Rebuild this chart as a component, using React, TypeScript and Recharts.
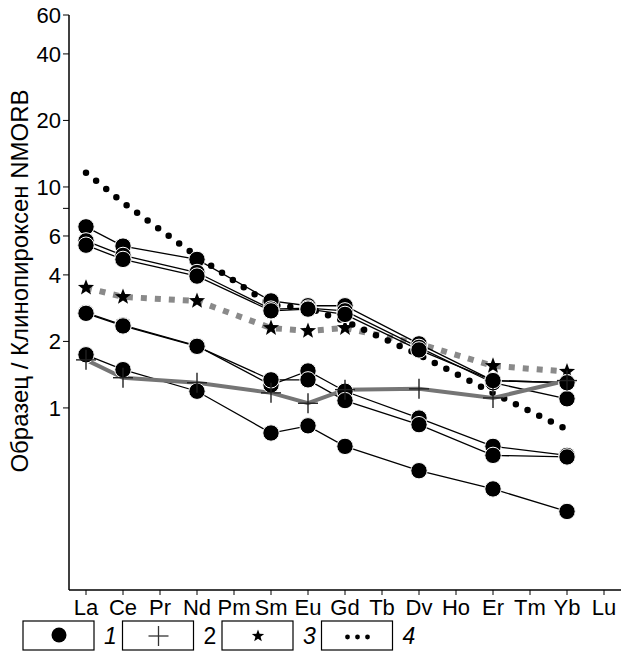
import React from 'react';
import { LineChart, Line, XAxis, YAxis } from 'recharts';

const elements = ['La', 'Ce', 'Pr', 'Nd', 'Pm', 'Sm', 'Eu', 'Gd', 'Tb', 'Dv', 'Ho', 'Er', 'Tm', 'Yb', 'Lu'];

// Group 1 samples (filled circles)
const g1a = [6.6, 5.4, null, 4.7, null, 3.05, 2.9, 2.9, null, 1.95, null, 1.33, null, 1.3, null];
const g1b = [5.7, 4.9, null, 4.1, null, 2.8, 2.83, 2.75, null, 1.88, null, 1.3, null, 1.1, null];
const g1c = [5.45, 4.7, null, 3.95, null, 2.75, 2.8, 2.65, null, 1.83, null, 1.33, null, 1.3, null];
const g1d = [2.7, 2.37, null, 1.91, null, 1.27, 1.47, 1.19, null, 0.9, null, 0.67, null, 0.61, null];
const g1e = [2.68, 2.35, null, 1.9, null, 1.34, 1.34, 1.08, null, 0.84, null, 0.61, null, 0.6, null];
const g1f = [1.74, 1.49, null, 1.19, null, 0.77, 0.83, 0.67, null, 0.52, null, 0.43, null, 0.34, null];
// Group 2 (crosses, grey line)
const g2 = [1.65, 1.37, null, 1.3, null, 1.17, 1.05, 1.21, null, 1.22, null, 1.11, null, 1.33, null];
// Group 3 (stars, grey dashed line)
const g3 = [3.5, 3.18, null, 3.05, null, 2.3, 2.23, 2.3, null, 1.95, null, 1.55, null, 1.46, null];
// Group 4 (dotted line)
const g4 = [11.6, 8.5, null, 4.85, null, 2.92, 2.83, 2.47, null, 1.74, null, 1.17, null, 0.8, null];

const yTicks = [1, 2, 4, 6, 8, 10, 20, 40, 60];
const yTickLabels = ['1', '2', '4', '6', '', '10', '20', '40', '60'];
const yLabel = 'Образец / Клинопироксен NMORB';
const legendItems = [
  { label: '1', italic: true, symbol: 'circle' },
  { label: '2', italic: false, symbol: 'plus' },
  { label: '3', italic: true, symbol: 'star' },
  { label: '4', italic: true, symbol: 'dots' },
];

const data = elements.map((el, i) => ({
  el,
  g1a: g1a[i], g1b: g1b[i], g1c: g1c[i], g1d: g1d[i], g1e: g1e[i], g1f: g1f[i],
  g2: g2[i], g3: g3[i], g4: g4[i],
}));

const FONT = '"Liberation Sans", Arial, sans-serif';

function starPath(cx: number, cy: number, R: number, r: number) {
  let d = '';
  for (let k = 0; k < 10; k++) {
    const rad = k % 2 === 0 ? R : r;
    const a = -Math.PI / 2 + (k * Math.PI) / 5;
    d += (k === 0 ? 'M' : 'L') + (cx + rad * Math.cos(a)).toFixed(2) + ',' + (cy + rad * Math.sin(a)).toFixed(2);
  }
  return d + 'Z';
}

const valid = (p: any) => p && p.cx != null && p.cy != null && p.value != null && !Number.isNaN(p.cy);

const renderCircle = (p: any) => {
  const k = `c-${p.dataKey}-${p.index}`;
  if (!valid(p)) return <g key={k} />;
  return <circle key={k} cx={p.cx} cy={p.cy} r={8.2} fill="#000" stroke="#fff" strokeWidth={1} />;
};

const renderPlus = (p: any) => {
  const k = `p-${p.index}`;
  if (!valid(p)) return <g key={k} />;
  return (
    <g key={k} stroke="#222" strokeWidth={1.4}>
      <line x1={p.cx - 10} y1={p.cy} x2={p.cx + 10} y2={p.cy} />
      <line x1={p.cx} y1={p.cy - 10} x2={p.cx} y2={p.cy + 10} />
    </g>
  );
};

const renderStar = (p: any) => {
  const k = `s-${p.index}`;
  if (!valid(p)) return <g key={k} />;
  return <path key={k} d={starPath(p.cx, p.cy, 8.5, 3.6)} fill="#000" />;
};

function LegendSymbol({ kind, cx, cy }: { kind: string; cx: number; cy: number }) {
  if (kind === 'circle') return <circle cx={cx} cy={cy} r={7.5} fill="#000" />;
  if (kind === 'plus')
    return (
      <g stroke="#333" strokeWidth={1.3}>
        <line x1={cx - 10} y1={cy + 1} x2={cx + 10} y2={cy + 1} />
        <line x1={cx} y1={cy - 9} x2={cx} y2={cy + 11} />
      </g>
    );
  if (kind === 'star') return <path d={starPath(cx, cy + 1, 6.5, 2.7)} fill="#000" />;
  return (
    <g fill="#000">
      <circle cx={cx - 10} cy={cy + 2} r={2.4} />
      <circle cx={cx} cy={cy + 2} r={2.4} />
      <circle cx={cx + 10} cy={cy + 2} r={2.4} />
    </g>
  );
}

export default function App() {
  const g1keys = ['g1a', 'g1b', 'g1c', 'g1d', 'g1e', 'g1f'];
  return (
    <div style={{ position: 'absolute', left: 0, top: 0, width: 622, height: 659, background: '#fff', fontFamily: FONT }}>
      <LineChart width={622} height={659} data={data} margin={{ top: 15, right: 1, bottom: 0, left: 0 }}>
        <XAxis
          dataKey="el"
          height={69}
          padding={{ left: 17, right: 17 }}
          interval={0}
          tickSize={5}
          tickMargin={4}
          tick={{ fontSize: 22, fill: '#000', fontFamily: FONT }}
          axisLine={{ stroke: '#000', strokeWidth: 1.5 }}
          tickLine={{ stroke: '#000' }}
        />
        <XAxis
          xAxisId="top"
          dataKey="el"
          orientation="top"
          height={0}
          tick={false}
          tickLine={false}
          axisLine={{ stroke: '#111', strokeWidth: 2 }}
        />
        <YAxis
          scale="log"
          domain={[0.15, 60]}
          allowDataOverflow
          ticks={yTicks}
          interval={0}
          width={69}
          tickSize={6}
          tickMargin={2}
          tickFormatter={(v: number) => yTickLabels[yTicks.indexOf(v)] ?? ''}
          tick={{ fontSize: 22, fill: '#000', fontFamily: FONT }}
          axisLine={{ stroke: '#000', strokeWidth: 1.5 }}
          tickLine={{ stroke: '#000' }}
          label={{
            content: () => (
              <text
                x={19}
                y={281}
                transform="rotate(-90 19 281)"
                textAnchor="middle"
                dominantBaseline="central"
                fontSize={24}
                fontFamily={FONT}
                fill="#000"
              >
                {yLabel}
              </text>
            ),
          }}
        />
        <YAxis
          yAxisId="right"
          orientation="right"
          width={0}
          tick={false}
          tickLine={false}
          axisLine={{ stroke: '#999', strokeWidth: 1 }}
        />
        <Line
          dataKey="g3"
          type="linear"
          connectNulls
          stroke="#8a8a8a"
          strokeWidth={6}
          strokeDasharray="6 8"
          dot={renderStar}
          activeDot={false}
          isAnimationActive={false}
        />
        <Line
          dataKey="g4"
          type="linear"
          connectNulls
          stroke="#000"
          strokeWidth={6.5}
          strokeDasharray="0 13"
          strokeLinecap="round"
          dot={false}
          activeDot={false}
          isAnimationActive={false}
        />
        {g1keys.map((k) => (
          <Line
            key={k}
            dataKey={k}
            type="linear"
            connectNulls
            stroke="#000"
            strokeWidth={1.3}
            dot={renderCircle}
            activeDot={false}
            isAnimationActive={false}
          />
        ))}
        <Line
          dataKey="g2"
          type="linear"
          connectNulls
          stroke="#757575"
          strokeWidth={4}
          dot={renderPlus}
          activeDot={false}
          isAnimationActive={false}
        />
      </LineChart>
      <svg width={622} height={659} style={{ position: 'absolute', left: 0, top: 0, pointerEvents: 'none' }}>
        {legendItems.map((it, i) => {
          const x = 23 + i * 99.5;
          const y = 621;
          return (
            <g key={it.label}>
              <rect x={x} y={y} width={71} height={29} fill="#fff" stroke="#000" strokeWidth={1.2} />
              <LegendSymbol kind={it.symbol} cx={x + 36} cy={y + 14} />
              <text
                x={x + 81}
                y={y + 23}
                fontSize={23}
                fontFamily={FONT}
                fontStyle={it.italic ? 'italic' : 'normal'}
                fill="#000"
              >
                {it.label}
              </text>
            </g>
          );
        })}
      </svg>
    </div>
  );
}
